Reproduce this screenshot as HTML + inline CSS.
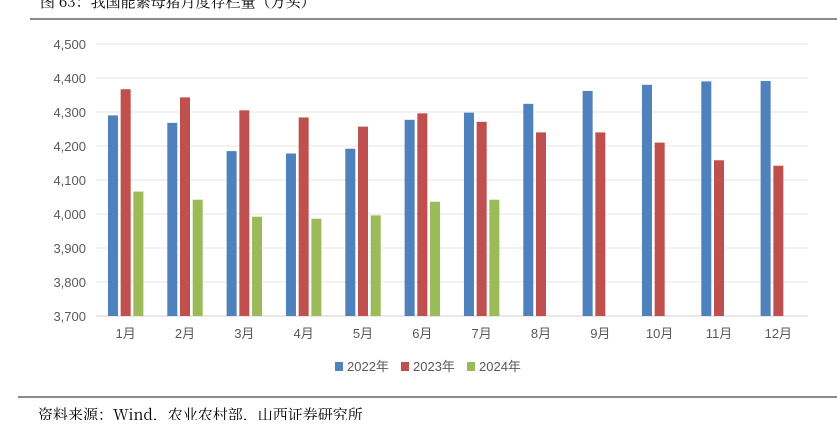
<!DOCTYPE html>
<html><head><meta charset="utf-8"><style>
body{margin:0;background:#fff;width:837px;height:420px;overflow:hidden;font-family:"Liberation Sans","Noto Sans CJK SC",sans-serif}
</style></head><body>
<svg width="837" height="420" xmlns="http://www.w3.org/2000/svg">
<text x="40" y="7" font-size="15" fill="#000" font-family="Noto Serif CJK SC, serif">图 63：我国能繁母猪月度存栏量（万头）</text>
<line x1="30" y1="19" x2="837" y2="19" stroke="#444" stroke-width="1.2"/>
<g id="grid"></g><g id="bars"></g><g id="axes"></g>
<g font-size="13" fill="#595959">
<rect x="335" y="362" width="8" height="9" fill="#4f81bd"/>
<text x="347" y="371">2022年</text>
<rect x="401" y="362" width="8" height="9" fill="#c0504d"/>
<text x="413" y="371">2023年</text>
<rect x="467" y="362" width="8" height="9" fill="#9bbb59"/>
<text x="479" y="371">2024年</text>
</g>
<line x1="18" y1="397" x2="837" y2="397" stroke="#444" stroke-width="1.2"/>
<text x="38" y="420" font-size="15" fill="#000" font-family="Noto Serif CJK SC, serif">资料来源：Wind，农业农村部，山西证券研究所</text>
</svg>
<script>
const categories=["1月","2月","3月","4月","5月","6月","7月","8月","9月","10月","11月","12月"];
const s2022=[4290,4268,4185,4178,4192,4277,4298,4324,4362,4380,4390,4391];
const s2023=[4367,4343,4305,4284,4257,4296,4271,4240,4240,4210,4158,4142];
const s2024=[4066,4042,3992,3986,3996,4036,4042];
const yTicks=[3700,3800,3900,4000,4100,4200,4300,4400,4500];
const yTickLabels=["3,700","3,800","3,900","4,000","4,100","4,200","4,300","4,400","4,500"];
const NS="http://www.w3.org/2000/svg";
const x0=96,x1=808,yTop=44,yBot=316,vMin=3700,vMax=4500;
const band=(x1-x0)/categories.length;
function y(v){return yBot-(v-vMin)/(vMax-vMin)*(yBot-yTop);}
function xc(i){return x0+band*(i+0.5);}
function mk(t,a,p){const e=document.createElementNS(NS,t);for(const k in a)e.setAttribute(k,a[k]);p.appendChild(e);return e;}
const grid=document.getElementById('grid'),bars=document.getElementById('bars'),axes=document.getElementById('axes');
yTicks.forEach((v,i)=>{
 const l=mk('line',{x1:x0,x2:x1,y1:y(v),y2:y(v),stroke:i==0?'#d0d0d0':'#e6e6e6','stroke-width':1},grid);
 
 
 const t=mk('text',{x:86,y:y(v)+5,'text-anchor':'end','font-size':13,fill:'#595959'},axes);
 t.textContent=yTickLabels[i];
 
 
});
categories.forEach((c,i)=>{
 const t=mk('text',{x:xc(i),y:338,'text-anchor':'middle','font-size':13,fill:'#595959'},axes);
 t.textContent=c;
 
 
});
const series=[[s2022,'#4f81bd',-12.7,'bar-2022'],[s2023,'#c0504d',0,'bar-2023'],[s2024,'#9bbb59',12.7,'bar-2024']];
series.forEach(([d,col,off,nm])=>{
 d.forEach((v,i)=>{
  const r=mk('rect',{x:xc(i)+off-5,y:y(v),width:10,height:yBot-y(v),fill:col},bars);
  
  
 });
});
</script>
</body></html>
